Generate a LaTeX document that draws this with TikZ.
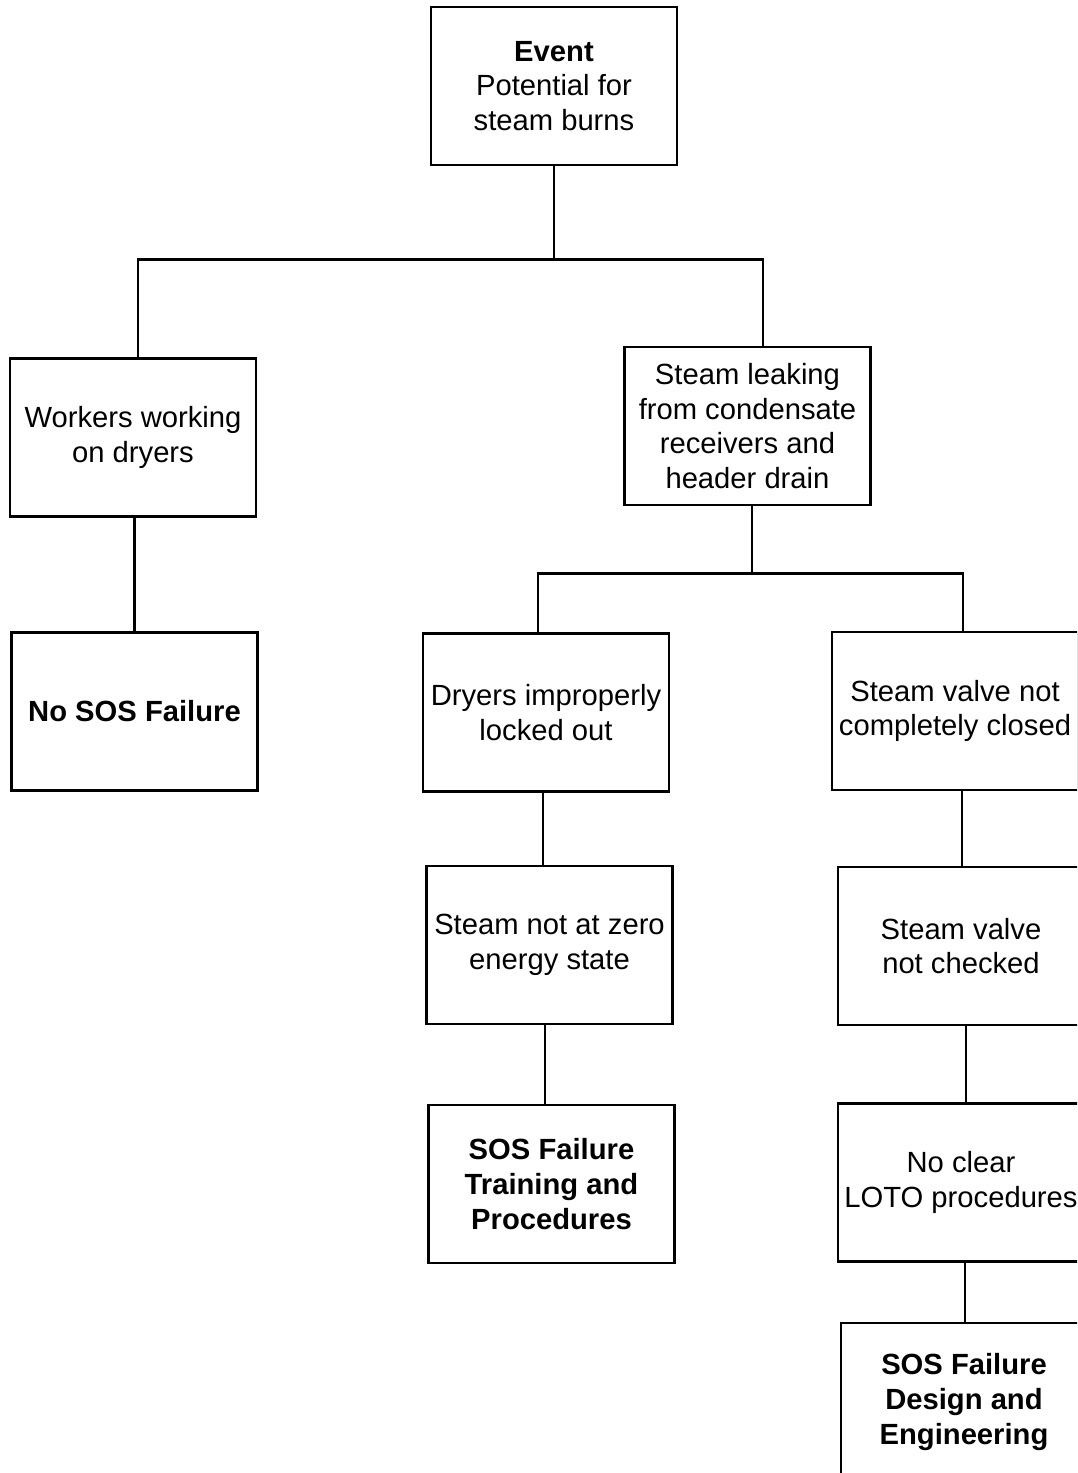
\documentclass[tikz,border=0pt]{standalone}
\usepackage{fontspec}
\setmainfont{Liberation Sans}
\usetikzlibrary{positioning}

\begin{document}
\begin{tikzpicture}[x=1pt, y=-1pt,
        box/.style={draw, line width=2.8pt, rectangle, minimum width=246pt, minimum height=158pt,
            align=center, inner sep=2pt, font=\fontsize{29.2}{34.8}\selectfont},
        link/.style={line width=2.8pt}]
        \useasboundingbox (0,0) rectangle (1077,1473);
        \clip (0,0) rectangle (1077,1473);

        % Top event
        \node[box] (event) at (554,86) {\textbf{Event}\\Potential for\\steam burns};

        % First level
        \node[box] (workers) at (133,437.5) {Workers working\\on dryers};
        \node[box] (leaking) at (747.5,426) {Steam leaking\\from condensate\\receivers and\\header drain};

        % Second level
        \node[box] (nofail) at (134.5,711.5) {\textbf{No SOS Failure}};
        \node[box] (dryers) at (546,712.5) {Dryers improperly\\locked out};
        \node[box] (valveopen) at (955,711) {Steam valve not\\completely closed};

        % Third level
        \node[box] (notzero) at (549.5,945) {Steam not at zero\\energy state};
        \node[box] (notchecked) at (961,946) {Steam valve\\not checked};

        % Fourth level
        \node[box] (training) at (551.5,1184) {\textbf{SOS Failure}\\\textbf{Training and}\\\textbf{Procedures}};
        \node[box] (noloto) at (961,1182.5) {No clear\\LOTO procedures};

        % Fifth level
        \node[box] (design) at (964,1402) {\textbf{SOS Failure}\\\textbf{Design and}\\\textbf{Engineering}};

        % Branches
        \draw[link] (event.south) -- ++(0,93) coordinate (split1);
        \draw[link] ([xshift=5pt]workers.north) |- (split1) -| ([xshift=15.5pt]leaking.north);
        \draw[link] ([xshift=4.5pt]leaking.south) -- ++(0,67) coordinate (split2);
        \draw[link] ([xshift=-8pt]dryers.north) |- (split2) -| ([xshift=8pt]valveopen.north);

        % Chains
        \draw[link] (nofail.north) -- (nofail.north |- workers.south);
        \draw[link] ([xshift=-3pt]dryers.south) -- ([xshift=-3pt]dryers.south |- notzero.north);
        \draw[link] ([xshift=-4.5pt]notzero.south) -- ([xshift=-4.5pt]notzero.south |- training.north);
        \draw[link] ([xshift=7pt]valveopen.south) -- ([xshift=7pt]valveopen.south |- notchecked.north);
        \draw[link] ([xshift=5pt]notchecked.south) -- ([xshift=5pt]notchecked.south |- noloto.north);
        \draw[link] ([xshift=4pt]noloto.south) -- ([xshift=4pt]noloto.south |- design.north);
    \end{tikzpicture}
\end{document}
